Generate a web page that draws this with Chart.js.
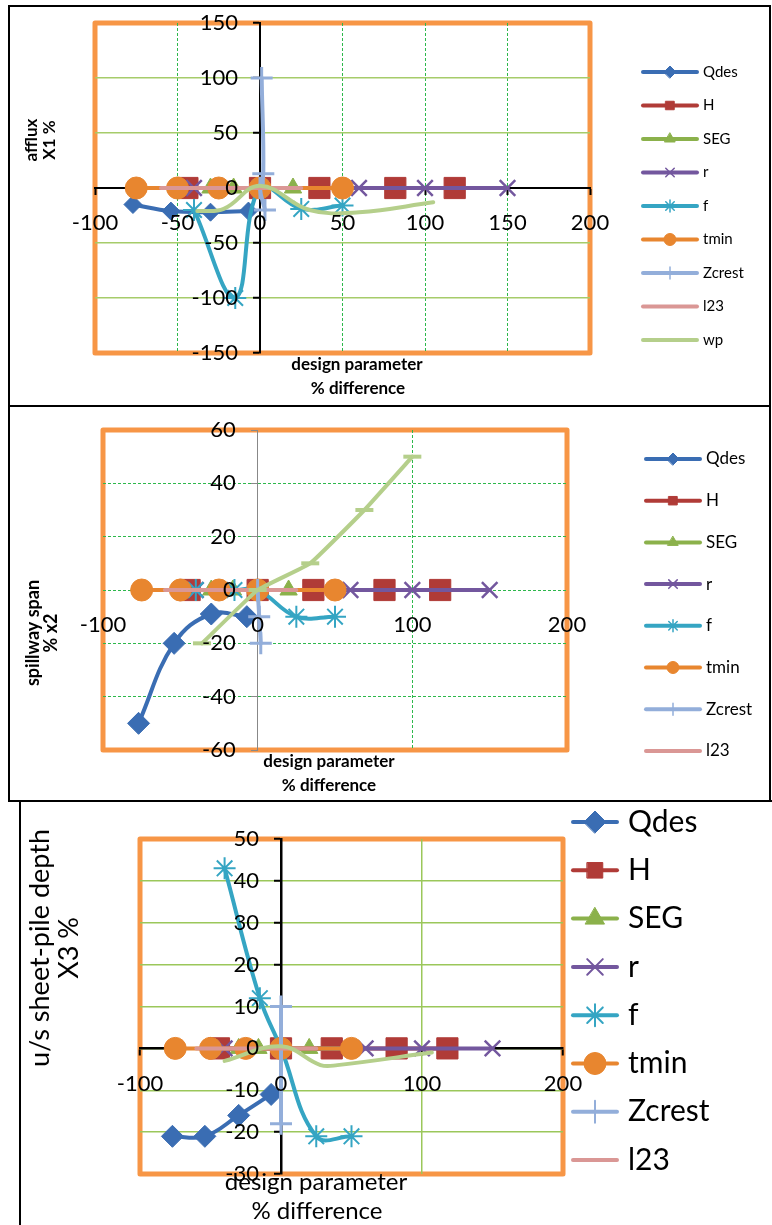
<!DOCTYPE html>
<html><head><meta charset="utf-8">
<script src="https://cdn.jsdelivr.net/npm/chart.js@4/dist/chart.umd.min.js"></script>
<style>
html,body{margin:0;padding:0;background:#fff}
body{width:772px;height:1225px;position:relative;overflow:hidden}
canvas{position:absolute;left:0}
.frame{position:absolute;border:2px solid #000;box-sizing:border-box;pointer-events:none}
</style></head><body>
<canvas id="c1" width="772" height="405" style="top:0px"></canvas>
<canvas id="c2" width="772" height="397" style="top:405px"></canvas>
<canvas id="c3" width="772" height="423" style="top:802px"></canvas>
<div class="frame" style="left:8px;top:5px;width:763px;height:402px"></div>
<div class="frame" style="left:8px;top:405px;width:763px;height:397px"></div>
<div class="frame" style="left:19px;top:800px;width:770px;height:440px"></div>
<script>
// ---------------- DATA ----------------
const SERIES = ['Qdes','H','SEG','r','f','tmin','Zcrest','l23','wp'];

const X_TICKS_1 = [-100,-50,0,50,100,150,200];
const Y_TICKS_1 = [-150,-100,-50,0,50,100,150];
const X_TICKS_2 = [-100,0,100,200];
const Y_TICKS_2 = [-60,-40,-20,0,20,40,60];
const X_TICKS_3 = [-100,0,100,200];
const Y_TICKS_3 = [-30,-20,-10,0,10,20,30,40,50];

// % difference of each design parameter
const xQdes = [-77,-54,-30,-7];
const xH    = [-44,0,36,82,118];
const xSEG  = [-30,-16,0,20,50];
const xR    = [-40,0,60,100,150];
const xF    = [-40,-15,0,25,50];
const xTmin = [-75,-50,-25,0,50];
const xL23  = [-60,0,25];

// chart 1 : afflux X1 %
const a_Qdes = [-15,-21,-22,-21];
const a_H    = [0,0,0,0,0];
const a_SEG  = [0,0,0,0,0];
const a_r    = [0,0,0,0,0];
const a_f    = [-20,-100,0,-19,-16];
const a_tmin = [0,0,0,0,0];
const a_Zc_x = [3,0,2,1];
const a_Zc   = [-20,0,13,100];
const a_l23  = [0,0,0];
const a_wp_x = [-38,-22,0,30,60,105];
const a_wp   = [-21,-19,2,-20,-22,-13];

// chart 2 : spillway span % x2
const s_Qdes = [-50,-20,-9,-10];
const s_H    = [0,0,0,0,0];
const s_SEG  = [0,0,0,0,0];
const s_r    = [0,0,0,0,0];
const s_f    = [0,0,0,-10,-10];
const s_tmin = [0,0,0,0,0];
const s_Zc_x = [0,1,2];
const s_Zc   = [0,-10,-20];
const s_l23  = [0,0,0];
const s_wp_x = [-36,0,34,69,100];
const s_wp   = [-20,0,10,30,50];

// chart 3 : u/s sheet-pile depth X3 %
const d_Qdes = [-21,-21,-16,-11];
const d_H    = [0,0,0,0,0];
const d_SEG  = [0,0,0,0,0];
const d_r    = [0,0,0,0,0];
const d_f    = [43,12,0,-21,-21];
const d_tmin = [0,0,0,0,0];
const d_Zc_x = [0,0,0];
const d_Zc   = [-18,0,10];
const d_l23  = [0,0,0];
const d_wp_x = [-40,0,28,40,107];
const d_wp   = [-3,0.5,-4,-4,-1];

// ---------------- STYLE ----------------
const STYLE = {
  Qdes:  {c:'#3A6DB3', ps:'rectRot', r:11},
  H:     {c:'#B03B37', ps:'rect', r:15},
  SEG:   {c:'#8BB14B', ps:'triangle', r:10},
  r:     {c:'#73579E', ps:'crossRot', r:11, bw:2.5},
  f:     {c:'#35A5C3', ps:'star', r:11, bw:2},
  tmin:  {c:'#E8862F', ps:'circle', r:11},
  Zcrest:{c:'#93AEDA', ps:'cross', r:11, bw:3},
  l23:   {c:'#DA9795', ps:false, r:0},
  wp:    {c:'#B5CF8B', ps:false, r:0}
};

function mk(name, xs, ys, over) {
  const s = STYLE[name];
  return Object.assign({
    label: name,
    data: xs.map((x, i) => ({x: x, y: ys[i]})),
    showLine: true,
    borderColor: s.c, backgroundColor: s.c,
    borderWidth: 4, borderCapStyle: 'round', borderJoinStyle: 'round',
    pointStyle: s.ps, pointRadius: s.r, pointHoverRadius: s.r,
    pointBackgroundColor: s.c, pointBorderColor: s.c, pointBorderWidth: s.bw || 1,
    tension: 0.4,
    order: 20 - SERIES.indexOf(name)
  }, over || {});
}

// ---------------- PLUGINS ----------------
const framePlugin = {
  id: 'frame',
  beforeDraw(chart, args, o) {
    const ctx = chart.ctx, a = chart.chartArea;
    ctx.save();
    ctx.fillStyle = '#fff'; ctx.fillRect(0, 0, chart.width, chart.height);
    ctx.strokeStyle = '#F79646'; ctx.lineWidth = o.w || 5; ctx.lineJoin = 'round';
    ctx.strokeRect(a.left, a.top, a.right - a.left, a.bottom - a.top);
    ctx.restore();
  }
};
const titlePlugin = {
  id: 'xtitles',
  afterDraw(chart, args, o) {
    const ctx = chart.ctx;
    ctx.save(); ctx.fillStyle = '#000'; ctx.textAlign = 'center'; ctx.textBaseline = 'middle';
    ctx.font = o.xFont;
    o.xLines.forEach(l => ctx.fillText(l.t, l.x, l.y - o.top));
    ctx.font = o.yFont;
    o.yLines.forEach(l => { ctx.save(); ctx.translate(l.x, l.y - o.top); ctx.rotate(-Math.PI/2); ctx.fillText(l.t, 0, 0); ctx.restore(); });
    ctx.restore();
  }
};
const legendPlugin = {
  id: 'xlegend',
  afterDraw(chart, args, o) {
    const ctx = chart.ctx;
    ctx.save();
    let k = 0;
    chart.data.datasets.forEach((d) => {
      if (d.noLegend) return;
      const y = o.y0 + k * o.dy - o.top; k++;
      ctx.strokeStyle = d.borderColor; ctx.lineWidth = o.lw; ctx.lineCap = 'round';
      ctx.beginPath(); ctx.moveTo(o.x0, y); ctx.lineTo(o.x0 + o.len, y); ctx.stroke();
      if (d.pointStyle && Chart.helpers && Chart.helpers.drawPoint) {
        ctx.fillStyle = d.pointBackgroundColor; ctx.strokeStyle = d.pointBorderColor;
        const bw = d.pointBorderWidth > 1 ? o.mbw : 1;
        ctx.lineWidth = bw;
        Chart.helpers.drawPoint(ctx, {pointStyle: d.pointStyle, rotation: 0, radius: o.mr, borderWidth: bw}, o.x0 + o.len/2, y);
      }
      ctx.fillStyle = '#000'; ctx.font = o.font; ctx.textBaseline = 'middle'; ctx.textAlign = 'left';
      ctx.fillText(d.label, o.tx, y);
    });
    ctx.restore();
  }
};
Chart.register(framePlugin, titlePlugin, legendPlugin);

function setTicks(arr) { return (scale) => { scale.ticks = arr.map(v => ({value: v})); }; }
function hideEdge(color, min, max) {
  return (c) => (c.tick && (c.tick.value === min || c.tick.value === max)) ? 'rgba(0,0,0,0)' : color;
}
// y labels sit a little away from the crossing axis
const yLabel = (v) => v + '\u2002\u2002';
const TICKFONT = {family: 'Lato', size: 22};

// ---------------- CHART 1 ----------------
new Chart(document.getElementById('c1'), {
  type: 'scatter',
  data: {datasets: [
    mk('Qdes', xQdes, a_Qdes, {pointRadius: 9}), mk('H', xH, a_H), mk('SEG', xSEG, a_SEG), mk('r', xR, a_r),
    mk('f', xF, a_f), mk('tmin', xTmin, a_tmin), mk('Zcrest', a_Zc_x, a_Zc), mk('l23', xL23, a_l23),
    mk('wp', a_wp_x, a_wp)
  ]},
  options: {
    responsive: false, animation: false, devicePixelRatio: 1,
    layout: {padding: {left: 95, right: 182, top: 23, bottom: 52}},
    plugins: {
      legend: {display: false}, tooltip: {enabled: false},
      frame: {w: 5},
      xtitles: {top: 0, xFont: 'bold 17px Lato', yFont: 'bold 17px Lato',
        xLines: [{t: 'design parameter', x: 357, y: 365}, {t: '% difference', x: 358, y: 389}],
        yLines: [{t: 'afflux', x: 32, y: 140}, {t: 'X1 %', x: 50, y: 140}]},
      xlegend: {top: 0, x0: 643, len: 54, tx: 703, y0: 72, dy: 33.5, lw: 4, mr: 6, mbw: 1.5, font: '15px Lato'}
    },
    scales: {
      x: {type: 'linear', min: -100, max: 200, position: {y: 0}, afterBuildTicks: setTicks(X_TICKS_1),
        grid: {color: hideEdge('#2DB84B', -100, 200), lineWidth: 1, tickColor: '#000', tickLength: 6, tickWidth: 2},
        border: {color: '#000', width: 2, dash: [3, 2]},
        ticks: {font: TICKFONT, color: '#000', padding: 16, z: 1, maxRotation: 0, autoSkip: false}},
      y: {type: 'linear', min: -150, max: 150, position: {x: 0}, afterBuildTicks: setTicks(Y_TICKS_1),
        grid: {color: hideEdge('#A6CC6A', -150, 150), lineWidth: 1.5, tickColor: '#000', tickLength: 6, tickWidth: 2},
        border: {color: '#000', width: 2},
        ticks: {font: TICKFONT, color: '#000', z: 1, autoSkip: false, callback: yLabel}}
    }
  }
});

// ---------------- CHART 2 ----------------
new Chart(document.getElementById('c2'), {
  type: 'scatter',
  data: {datasets: [
    mk('Qdes', xQdes, s_Qdes), mk('H', xH, s_H), mk('SEG', xSEG, s_SEG), mk('r', xR, s_r),
    mk('f', xF, s_f), mk('tmin', xTmin, s_tmin), mk('Zcrest', s_Zc_x, s_Zc), mk('l23', xL23, s_l23),
    mk('wp', s_wp_x, s_wp, {noLegend: true, pointStyle: 'line', pointRadius: 9, pointBorderWidth: 4, tension: 0.1})
  ]},
  options: {
    responsive: false, animation: false, devicePixelRatio: 1,
    layout: {padding: {left: 103, right: 205, top: 25, bottom: 52}},
    plugins: {
      legend: {display: false}, tooltip: {enabled: false},
      frame: {w: 5},
      xtitles: {top: 405, xFont: 'bold 17px Lato', yFont: 'bold 18px Lato',
        xLines: [{t: 'design parameter', x: 329, y: 762}, {t: '% difference', x: 329, y: 786}],
        yLines: [{t: 'spillway span', x: 33, y: 633}, {t: '% x2', x: 51, y: 633}]},
      xlegend: {top: 405, x0: 646, len: 54, tx: 706, y0: 459, dy: 41.7, lw: 4, mr: 6, mbw: 1.5, font: '17px Lato'}
    },
    scales: {
      x: {type: 'linear', min: -100, max: 200, position: {y: 0}, afterBuildTicks: setTicks(X_TICKS_2),
        grid: {color: hideEdge('#2DB84B', -100, 200), lineWidth: 1, drawTicks: false},
        border: {display: false, dash: [3, 2]},
        ticks: {font: TICKFONT, color: '#000', padding: 22, z: 1, maxRotation: 0, autoSkip: false}},
      y: {type: 'linear', min: -60, max: 60, position: {x: 0}, afterBuildTicks: setTicks(Y_TICKS_2),
        grid: {color: hideEdge('#2DB84B', -60, 60), lineWidth: 1, tickColor: '#888', tickLength: 6, tickWidth: 1},
        border: {color: '#888', width: 1, dash: [3, 2]},
        ticks: {font: TICKFONT, color: '#000', z: 1, autoSkip: false, callback: yLabel}}
    }
  }
});

// ---------------- CHART 3 ----------------
new Chart(document.getElementById('c3'), {
  type: 'scatter',
  data: {datasets: [
    mk('Qdes', xQdes, d_Qdes), mk('H', xH, d_H), mk('SEG', xSEG, d_SEG), mk('r', xR, d_r),
    mk('f', xF, d_f), mk('tmin', xTmin, d_tmin), mk('Zcrest', d_Zc_x, d_Zc), mk('l23', xL23, d_l23),
    mk('wp', d_wp_x, d_wp, {noLegend: true})
  ]},
  options: {
    responsive: false, animation: false, devicePixelRatio: 1,
    layout: {padding: {left: 140, right: 209, top: 37, bottom: 51}},
    plugins: {
      legend: {display: false}, tooltip: {enabled: false},
      frame: {w: 5},
      xtitles: {top: 802, xFont: '24px Lato', yFont: '27px Lato',
        xLines: [{t: 'design parameter', x: 316, y: 1182}, {t: '% difference', x: 317, y: 1211}],
        yLines: [{t: 'u/s sheet-pile depth', x: 40, y: 948}, {t: 'X3 %', x: 69, y: 948}]},
      xlegend: {top: 802, x0: 573, len: 44, tx: 628, y0: 822, dy: 48.3, lw: 4, mr: 11, mbw: 2, font: '30px Lato'}
    },
    scales: {
      x: {type: 'linear', min: -100, max: 200, position: {y: 0}, afterBuildTicks: setTicks(X_TICKS_3),
        grid: {color: hideEdge('#9BC75A', -100, 200), lineWidth: 1.5, tickColor: '#000', tickLength: 6, tickWidth: 2},
        border: {color: '#000', width: 2.5},
        ticks: {font: TICKFONT, color: '#000', padding: 16, z: 1, maxRotation: 0, autoSkip: false}},
      y: {type: 'linear', min: -30, max: 50, position: {x: 0}, afterBuildTicks: setTicks(Y_TICKS_3),
        grid: {color: hideEdge('#9BC75A', -30, 50), lineWidth: 1.5, tickColor: '#000', tickLength: 6, tickWidth: 2},
        border: {color: '#000', width: 2.5},
        ticks: {font: TICKFONT, color: '#000', z: 1, autoSkip: false, callback: yLabel}}
    }
  }
});
</script>
</body></html>
